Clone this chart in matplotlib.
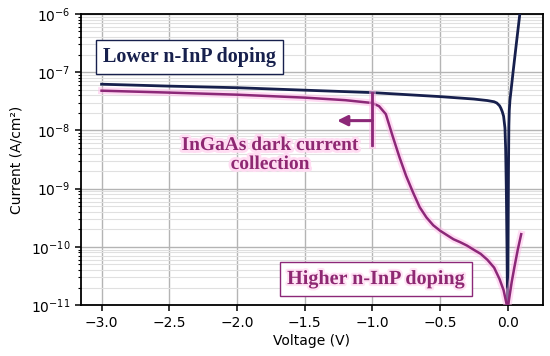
import matplotlib
matplotlib.use('Agg')
import matplotlib.pyplot as plt
import matplotlib.patheffects as pe
from matplotlib.ticker import LogLocator, NullFormatter

# lower n-InP doping (navy curve)
v_low = [-3.0, -2.5, -2.0, -1.5, -1.0, -0.5, -0.25, -0.15, -0.1, -0.08, -0.06, -0.05,
         -0.04, -0.03, -0.02, -0.015, -0.01, -0.005, 0.0, 0.003, 0.006, 0.009, 0.012,
         0.017, 0.04, 0.065, 0.09, 0.1]
i_low = [6.2e-8, 5.75e-8, 5.4e-8, 4.9e-8, 4.45e-8, 3.8e-8, 3.45e-8, 3.25e-8, 3.1e-8,
         2.95e-8, 2.65e-8, 2.4e-8, 2.1e-8, 1.75e-8, 1.1e-8, 5.0e-9, 1.0e-9, 1.0e-10,
         5.0e-12, 1.0e-10, 2.0e-9, 1.2e-8, 2.2e-8, 3.3e-8, 1.0e-7, 3.2e-7, 1.0e-6, 1.6e-6]

# higher n-InP doping (magenta curve)
v_high = [-3.0, -2.5, -2.0, -1.5, -1.2, -1.0, -0.95, -0.9, -0.85, -0.8, -0.75, -0.7,
          -0.65, -0.6, -0.55, -0.5, -0.45, -0.4, -0.35, -0.3, -0.25, -0.2, -0.15,
          -0.1, -0.06, -0.03, -0.01, 0.0, 0.01, 0.03, 0.05, 0.075, 0.1]
i_high = [4.8e-8, 4.45e-8, 4.1e-8, 3.65e-8, 3.3e-8, 2.95e-8, 2.6e-8, 1.9e-8, 8.0e-9,
          3.5e-9, 1.65e-9, 8.7e-10, 4.8e-10, 3.2e-10, 2.35e-10, 1.9e-10, 1.6e-10,
          1.35e-10, 1.2e-10, 1.05e-10, 8.9e-11, 7.6e-11, 6.0e-11, 4.4e-11, 2.8e-11,
          1.8e-11, 1.1e-11, 8.5e-12, 1.25e-11, 2.5e-11, 4.5e-11, 9.0e-11, 1.65e-10]

navy = '#17204d'
magenta = '#8c2878'
magenta_txt = '#8e2872'
glow = '#ffb8e8'

plt.rcParams['font.family'] = 'DejaVu Sans'
fig = plt.figure(figsize=(5.5, 3.56), dpi=100)
ax = fig.add_axes([0.147, 0.143, 0.84, 0.818])

ax.set_yscale('log')
ax.set_xlim(-3.153, 0.26)
ax.set_ylim(1e-11, 1e-6)

ax.yaxis.set_major_locator(LogLocator(base=10, numticks=10))
ax.yaxis.set_minor_locator(LogLocator(base=10, subs=range(2, 10), numticks=20))
ax.yaxis.set_minor_formatter(NullFormatter())
ax.set_xticks([-3.0, -2.5, -2.0, -1.5, -1.0, -0.5, 0.0])

ax.grid(which='major', axis='both', color='#b4b4b4', linewidth=1.0)
ax.grid(which='minor', axis='y', color='#e0e0e0', linewidth=0.8)
ax.set_axisbelow(True)

ax.plot(v_low, i_low, color=navy, linewidth=2.0, zorder=3)
ax.plot(v_high, i_high, color=magenta, linewidth=1.8, zorder=4,
        path_effects=[pe.Stroke(linewidth=5, foreground=glow, alpha=0.5), pe.Normal()])

# dark current collection marker
ax.plot([-1.0, -1.0], [4.4e-8, 5.6e-9], color=magenta, linewidth=2.0, zorder=5,
        path_effects=[pe.Stroke(linewidth=5, foreground=glow, alpha=0.5), pe.Normal()])
ax.annotate('', xy=(-1.26, 1.47e-8), xytext=(-1.0, 1.47e-8), zorder=5,
            arrowprops=dict(arrowstyle='-|>,head_length=0.6,head_width=0.3',
                            color=magenta, linewidth=2.2, shrinkA=0, shrinkB=0))

serif = ['Liberation Serif', 'DejaVu Serif']
ax.text(-1.754, 3.78e-9, 'InGaAs dark current\ncollection', color=magenta_txt,
        fontsize=14, fontweight='bold', family=serif, ha='center', va='center',
        linespacing=1.15, zorder=6,
        path_effects=[pe.withStroke(linewidth=4, foreground='#ffdcf2')])

ax.text(-2.35, 1.79e-7, 'Lower n-InP doping', color=navy, fontsize=14.5,
        fontweight='bold', family=serif, ha='center', va='center', zorder=6,
        bbox=dict(boxstyle='square,pad=0.35', facecolor='white', edgecolor=navy,
                  linewidth=1.0))

ax.text(-0.973, 2.8e-11, 'Higher n-InP doping', color=magenta_txt, fontsize=14.5,
        fontweight='bold', family=serif, ha='center', va='center', zorder=6,
        path_effects=[pe.withStroke(linewidth=3, foreground='#ffe4f5')],
        bbox=dict(boxstyle='square,pad=0.35', facecolor='white', edgecolor=magenta,
                  linewidth=1.0))

for s in ax.spines.values():
    s.set_linewidth(1.3)
ax.tick_params(which='major', direction='out', length=4, width=1.1, labelsize=10)
ax.tick_params(which='minor', direction='out', length=2.5, width=0.8)

ax.set_xlabel('Voltage (V)', fontsize=10, labelpad=3)
ax.set_ylabel('Current (A/cm²)', fontsize=10, labelpad=5)

fig.savefig('out.png', dpi=100)
